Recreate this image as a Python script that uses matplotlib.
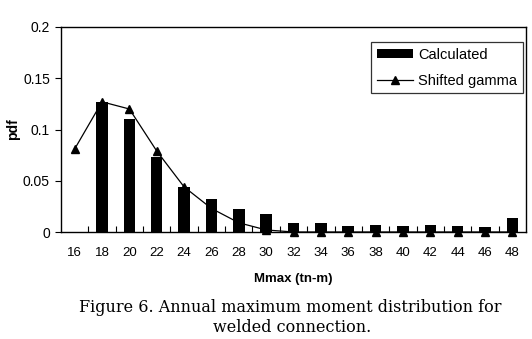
import matplotlib
matplotlib.use("Agg")
import matplotlib.pyplot as plt
import numpy as np

categories = [16, 18, 20, 22, 24, 26, 28, 30, 32, 34, 36, 38, 40, 42, 44, 46, 48]
calculated = [0.0, 0.127, 0.110, 0.073, 0.044, 0.032, 0.022, 0.018, 0.009, 0.009,
              0.006, 0.007, 0.006, 0.007, 0.006, 0.005, 0.014]
shifted_gamma = [0.081, 0.127, 0.120, 0.079, 0.044, 0.023, 0.009, 0.002, 0.0, 0.0,
                 0.0, 0.0, 0.0, 0.0, 0.0, 0.0, 0.0]
yticks = [0, 0.05, 0.1, 0.15, 0.2]
ytick_labels = ["0", "0.05", "0.1", "0.15", "0.2"]

plt.rcParams['font.family'] = ['Liberation Sans', 'DejaVu Sans']

fig = plt.figure(figsize=(5.32, 3.39), dpi=100)
ax = fig.add_axes([61/532, 1-232/339, (526-61)/532, (232-27)/339])

x = np.arange(len(categories))
bars = ax.bar(x, calculated, width=0.42, color='black', label='Calculated', zorder=4)
line, = ax.plot(x, shifted_gamma, color='black', lw=0.9, marker='^', markersize=6,
                label='Shifted gamma', zorder=3, clip_on=False)

ax.set_xlim(-0.5, len(categories) - 0.5)
ax.set_ylim(0, 0.2)
ax.set_yticks(yticks)
ax.set_yticklabels(ytick_labels, fontsize=10)
ax.set_xticks(x)
ax.set_xticklabels([str(c) for c in categories], fontsize=9.5)
ax.tick_params(axis='x', length=0, pad=11)
ax.set_xticks(np.arange(0.5, len(categories) - 0.5, 1), minor=True)
ax.tick_params(axis='x', which='minor', direction='in', length=4, width=0.8)
ax.tick_params(axis='y', direction='out', length=4, width=0.8, pad=4)
for s in ax.spines.values():
    s.set_linewidth(1.0)
    s.set_zorder(5)

ax.set_xlabel('Mmax (tn-m)', fontsize=9.5, fontweight='bold', labelpad=10)
ax.set_ylabel('pdf', fontsize=10, fontweight='bold', labelpad=2)

leg = ax.legend([bars, line], ['Calculated', 'Shifted gamma'],
                loc='upper right', bbox_to_anchor=(523/532, 1 - 42/339),
                bbox_transform=fig.transFigure, fontsize=10.5,
                frameon=True, fancybox=False, edgecolor='black',
                handlelength=2.5, handleheight=0.55, borderpad=0.38, labelspacing=0.85,
                handletextpad=0.35, borderaxespad=0)
leg.get_frame().set_linewidth(0.9)
leg.set_zorder(6)

fig.text(290/532, 1-307/339, 'Figure 6. Annual maximum moment distribution for',
         ha='center', va='center', fontsize=11.5, family='DejaVu Serif')
fig.text(292/532, 1-327/339, 'welded connection.',
         ha='center', va='center', fontsize=11.5, family='DejaVu Serif')

fig.savefig('out.png', dpi=100)
